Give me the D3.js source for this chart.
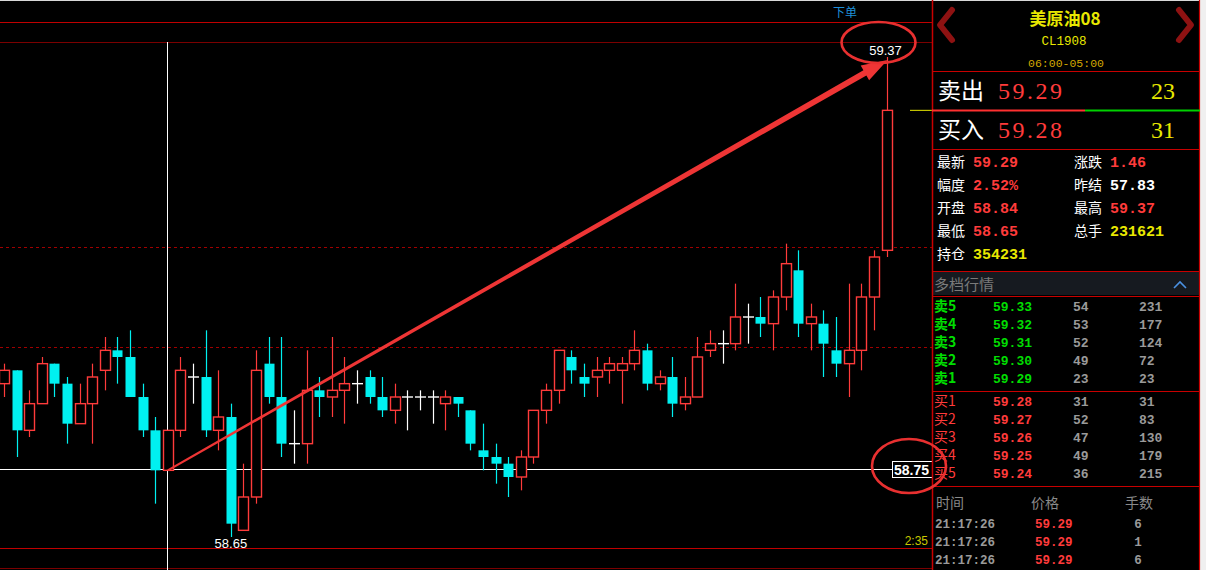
<!DOCTYPE html>
<html><head><meta charset="utf-8">
<script src="https://cdn.jsdelivr.net/npm/d3@7"></script>
<style>html,body{margin:0;padding:0;background:#000;overflow:hidden}</style>
</head><body>
<svg id="c" width="1206" height="570"></svg>
<script>
// ---- chart data (candles, index 0..70) ----
const opens  = [58.88,58.90,58.81,58.85,58.91,58.88,58.82,58.85,58.90,58.93,58.92,58.86,58.81,58.75,58.81,58.89,58.89,58.81,58.83,58.66,58.71,58.91,58.86,58.79,58.79,58.87,58.86,58.87,58.88,58.89,58.86,58.84,58.86,58.86,58.86,58.85,58.86,58.84,58.78,58.77,58.76,58.74,58.77,58.84,58.87,58.92,58.89,58.89,58.90,58.90,58.91,58.93,58.88,58.89,58.85,58.86,58.93,58.94,58.94,58.98,58.98,58.97,59.01,59.05,58.97,58.97,58.93,58.91,58.93,59.01,59.08];
const highs  = [58.91,58.90,58.87,58.92,58.91,58.89,58.88,58.91,58.95,58.95,58.96,58.88,58.83,58.81,58.92,58.91,58.96,58.90,58.85,58.76,58.93,58.95,58.95,58.84,58.93,58.89,58.95,58.92,58.90,58.90,58.89,58.88,58.87,58.87,58.87,58.87,58.86,58.84,58.82,58.79,58.77,58.78,58.84,58.88,58.93,58.93,58.91,58.92,58.92,58.92,58.96,58.94,58.90,58.92,58.89,58.95,58.96,58.96,59.03,59.00,59.01,59.02,59.09,59.08,59.00,58.99,58.98,59.03,59.03,59.08,59.37];
const lows   = [58.86,58.77,58.80,58.85,58.86,58.79,58.82,58.79,58.87,58.88,58.86,58.80,58.70,58.75,58.80,58.85,58.80,58.78,58.65,58.66,58.70,58.85,58.77,58.76,58.76,58.83,58.83,58.82,58.85,58.85,58.83,58.82,58.81,58.84,58.82,58.81,58.83,58.78,58.75,58.73,58.71,58.72,58.76,58.82,58.85,58.88,58.86,58.86,58.88,58.85,58.90,58.87,58.87,58.83,58.84,58.86,58.92,58.91,58.93,58.94,58.95,58.93,58.99,58.95,58.93,58.89,58.89,58.86,58.90,58.96,59.07];
const closes = [58.90,58.81,58.85,58.91,58.88,58.82,58.85,58.89,58.93,58.92,58.86,58.81,58.75,58.81,58.90,58.89,58.81,58.83,58.67,58.71,58.90,58.86,58.79,58.79,58.87,58.86,58.87,58.88,58.88,58.86,58.84,58.86,58.86,58.86,58.86,58.86,58.85,58.79,58.77,58.76,58.74,58.77,58.84,58.87,58.93,58.90,58.88,58.90,58.91,58.91,58.93,58.88,58.89,58.85,58.86,58.92,58.94,58.94,58.98,58.98,58.97,59.01,59.06,58.97,58.98,58.94,58.91,58.93,59.01,59.07,59.29];
const gridPrices = [58.935, 59.085];
const crossIndex = 13, crossPrice = 58.75;
const lowIndex = 18, lowPrice = 58.65;
const highIndex = 70, highPrice = 59.37;
const lastPrice = 59.29;
const timeLabel = "2:35";

// ---- panel data ----
const title = "美原油08", code = "CL1908", session = "06:00-05:00";
const sellLabel = ["卖出", "59.29", "23"], buyLabel = ["买入", "59.28", "31"];
const infoLeft  = [["最新","59.29","#ff3b3b"],["幅度","2.52%","#ff3b3b"],["开盘","58.84","#ff3b3b"],["最低","58.65","#ff3b3b"],["持仓","354231","#e8e800"]];
const infoRight = [["涨跌","1.46","#ff3b3b"],["昨结","57.83","#ffffff"],["最高","59.37","#ff3b3b"],["总手","231621","#e8e800"]];
const askNames = ["卖5","卖4","卖3","卖2","卖1"];
const askPrices = ["59.33","59.32","59.31","59.30","59.29"];
const askVols = ["54","53","52","49","23"];
const askCum = ["231","177","124","72","23"];
const bidNames = ["买1","买2","买3","买4","买5"];
const bidPrices = ["59.28","59.27","59.26","59.25","59.24"];
const bidVols = ["31","52","47","49","36"];
const bidCum = ["31","83","130","179","215"];
const tradeHead = ["时间","价格","手数"];
const tradeTimes = ["21:17:26","21:17:26","21:17:26"];
const tradePrices = ["59.29","59.29","59.29"];
const tradeQty = ["6","1","6"];

const svg = d3.select("#c");
svg.append("rect").attr("width",1206).attr("height",570).attr("fill","#000");

const x = d3.scaleLinear().domain([0, 70]).range([3.9, 886.5]);
const y = d3.scaleLinear().domain([58.65, 59.37]).range([537, 57]);

const UP = "#ff3b3b", DOWN = "#00f0f0", DOJI = "#ffffff";
const CJK = "'Noto Sans CJK SC', sans-serif";
const MONO = "'Liberation Mono', monospace";
const SERIF = "'Liberation Serif', serif";
const SANS = "'Liberation Sans', Arial, sans-serif";

// chart frame lines
svg.append("line").attr("x1",0).attr("x2",1206).attr("y1",0.5).attr("y2",0.5).attr("stroke","#d8d8d8");
[[22,"#c00000"],[42,"#7a0000"],[548,"#c00000"],[568,"#7a0000"]].forEach(([yy,c]) => {
  svg.append("line").attr("x1",0).attr("x2",932).attr("y1",yy+0.5).attr("y2",yy+0.5).attr("stroke",c).attr("stroke-width",1.2);
});
// dashed grid
svg.selectAll(".grid").data(gridPrices).enter().append("line")
  .attr("x1",0).attr("x2",932).attr("y1",d=>Math.round(y(d))+0.5).attr("y2",d=>Math.round(y(d))+0.5)
  .attr("stroke","#a00000").attr("stroke-width",1.2).attr("stroke-dasharray","3,3");

svg.append("text").attr("x",845).attr("y",17).attr("text-anchor","middle").attr("fill","#1e8fd8")
  .attr("font-family",CJK).attr("font-size",12).text("下单");

// crosshair
const cx = Math.round(x(crossIndex)) - 0.5;
svg.append("line").attr("x1",cx).attr("x2",cx).attr("y1",42).attr("y2",570).attr("stroke","#fff");
svg.append("line").attr("x1",0).attr("x2",892).attr("y1",Math.round(y(crossPrice))-0.5).attr("y2",Math.round(y(crossPrice))-0.5).attr("stroke","#fff").attr("stroke-width",1.2);

// candles
const data = opens.map((o,i)=>({i,o,h:highs[i],l:lows[i],c:closes[i]}));
const col = d => d.c > d.o ? UP : (d.c < d.o ? DOWN : DOJI);
const g = svg.append("g");
g.selectAll(".wick").data(data).enter().append("line")
  .attr("x1",d=>Math.round(x(d.i))+0.5).attr("x2",d=>Math.round(x(d.i))+0.5)
  .attr("y1",d=>y(d.h)).attr("y2",d=>y(d.l)).attr("stroke",col).attr("stroke-width",1.2);
const bw = 10;
g.selectAll(".body").data(data.filter(d=>d.c!==d.o)).enter().append("rect")
  .attr("x",d=>Math.round(x(d.i))-4.5).attr("width",bw)
  .attr("y",d=>y(Math.max(d.o,d.c))).attr("height",d=>Math.abs(y(d.o)-y(d.c)))
  .attr("fill",d=>d.c>d.o?"#000":DOWN).attr("stroke",col).attr("stroke-width",d=>d.c>d.o?1.4:0);
g.selectAll(".doji").data(data.filter(d=>d.c===d.o)).enter().append("line")
  .attr("x1",d=>Math.round(x(d.i))-5).attr("x2",d=>Math.round(x(d.i))+6)
  .attr("y1",d=>y(d.o)).attr("y2",d=>y(d.o)).attr("stroke",DOJI).attr("stroke-width",1.4);

// last price marker
svg.append("line").attr("x1",910).attr("x2",932).attr("y1",y(lastPrice)).attr("y2",y(lastPrice)).attr("stroke","#e8e800");

// labels
svg.append("text").attr("x",x(lowIndex)).attr("y",548).attr("text-anchor","middle").attr("fill","#fff")
  .attr("font-family",SANS).attr("font-size",13).text(lowPrice.toFixed(2));
svg.append("text").attr("x",x(highIndex)-1).attr("y",55).attr("text-anchor","middle").attr("fill","#fff")
  .attr("font-family",SANS).attr("font-size",13).text(highPrice.toFixed(2));
svg.append("text").attr("x",928).attr("y",545).attr("text-anchor","end").attr("fill","#c8c800")
  .attr("font-family",SANS).attr("font-size",12).text(timeLabel);

// arrow
(function(){
  const S=[x(crossIndex), y(crossPrice)], T=[x(highIndex)+1, y(highPrice)+3];
  const dx=T[0]-S[0], dy=T[1]-S[1], L=Math.hypot(dx,dy), u=[dx/L,dy/L], n=[-u[1],u[0]];
  const B=[T[0]-u[0]*26, T[1]-u[1]*26];
  const p=(P,k)=>[P[0]+n[0]*k, P[1]+n[1]*k];
  const pts=[p(S,1.1),p(B,3),p(B,8.5),T,p(B,-8.5),p(B,-3),p(S,-1.1)];
  svg.append("polygon").attr("points",pts.map(q=>q.join(",")).join(" ")).attr("fill","#ee3535");
})();

// price box
svg.append("rect").attr("x",892.5).attr("y",461.5).attr("width",42).attr("height",16).attr("fill","#000").attr("stroke","#fff");
svg.append("text").attr("x",894).attr("y",475).attr("fill","#fff").attr("font-family",SANS).attr("font-weight","bold")
  .attr("font-size",14).text(crossPrice.toFixed(2));

// ---------------- right panel ----------------
const P = svg.append("g");
P.append("rect").attr("x",932).attr("y",1).attr("width",268).attr("height",569).attr("fill","#000");
P.append("rect").attr("x",1200).attr("y",0).attr("width",6).attr("height",570).attr("fill","#f0f0f0");
P.append("rect").attr("x",933).attr("y",272).attr("width",266).attr("height",23).attr("fill","#161a20");
const RED="#c80000";
P.append("line").attr("x1",932.5).attr("x2",932.5).attr("y1",0).attr("y2",570).attr("stroke",RED).attr("stroke-width",1.5);
P.append("line").attr("x1",1199.5).attr("x2",1199.5).attr("y1",0).attr("y2",570).attr("stroke",RED).attr("stroke-width",1.2);
[71,149,271,296,391,486].forEach(yy=>P.append("line").attr("x1",932).attr("x2",1200).attr("y1",yy+0.5).attr("y2",yy+0.5).attr("stroke",RED).attr("stroke-width",1.2));
P.append("line").attr("x1",932).attr("x2",1085).attr("y1",110.5).attr("y2",110.5).attr("stroke","#ff3030").attr("stroke-width",2);
P.append("line").attr("x1",1085).attr("x2",1200).attr("y1",110.5).attr("y2",110.5).attr("stroke","#00d000").attr("stroke-width",2);

// chevrons
P.append("polyline").attr("points","952,10 940,25 952,40").attr("fill","none").attr("stroke","#8e1212").attr("stroke-width",6).attr("stroke-linecap","round").attr("stroke-linejoin","round");
P.append("polyline").attr("points","1179,10 1191,25 1179,40").attr("fill","none").attr("stroke","#8e1212").attr("stroke-width",6).attr("stroke-linecap","round").attr("stroke-linejoin","round");
P.append("polyline").attr("points","1174,288 1180,282 1186,288").attr("fill","none").attr("stroke","#4a90e2").attr("stroke-width",1.6);

const T = (sel,xx,yy,txt,opt) => {
  const t = sel.append("text").attr("x",xx).attr("y",yy).text(txt)
  .attr("fill",opt.c).attr("font-family",opt.f).attr("font-size",opt.s).attr("font-weight",opt.w||"normal")
  .attr("text-anchor",opt.a||"start");
  if (opt.len) t.attr("textLength",opt.len).attr("lengthAdjust","spacing");
  return t;
};

T(P,1065,25,title,{c:"#e8e800",f:CJK,s:17,w:"bold",a:"middle"});
T(P,1064,45,code,{c:"#e8e800",f:MONO,s:12.5,a:"middle"});
T(P,1066,67,session,{c:"#d4a800",f:MONO,s:11.5,a:"middle"});

T(P,938,99,sellLabel[0],{c:"#fff",f:CJK,s:23});
T(P,998,99,sellLabel[1],{c:"#ff3b3b",f:SERIF,s:24,len:64});
T(P,1163,99,sellLabel[2],{c:"#e8e800",f:SERIF,s:24,a:"middle"});
T(P,938,138,buyLabel[0],{c:"#fff",f:CJK,s:23});
T(P,998,138,buyLabel[1],{c:"#ff3b3b",f:SERIF,s:24,len:64});
T(P,1163,138,buyLabel[2],{c:"#e8e800",f:SERIF,s:24,a:"middle"});

infoLeft.forEach((r,i)=>{ const yy=167+i*23;
  T(P,937,yy,r[0],{c:"#fff",f:CJK,s:14}); T(P,973,yy,r[1],{c:r[2],f:MONO,s:15,w:"bold"}); });
infoRight.forEach((r,i)=>{ const yy=167+i*23;
  T(P,1074,yy,r[0],{c:"#fff",f:CJK,s:14}); T(P,1110,yy,r[1],{c:r[2],f:MONO,s:15,w:"bold"}); });

T(P,934,290,"多档行情",{c:"#7a7a7a",f:CJK,s:15});

askNames.forEach((nm,i)=>{ const yy=311+i*18;
  T(P,934,yy,nm,{c:"#00dd00",f:CJK,s:14,w:"bold"});
  T(P,993,yy,askPrices[i],{c:"#00dd00",f:MONO,s:13,w:"bold"});
  T(P,1073,yy,askVols[i],{c:"#9a9a9a",f:MONO,s:13,w:"bold"});
  T(P,1139,yy,askCum[i],{c:"#9a9a9a",f:MONO,s:13,w:"bold"}); });
bidNames.forEach((nm,i)=>{ const yy=406+i*18;
  T(P,934,yy,nm,{c:"#ff3b3b",f:CJK,s:14});
  T(P,993,yy,bidPrices[i],{c:"#ff3b3b",f:MONO,s:13,w:"bold"});
  T(P,1073,yy,bidVols[i],{c:"#9a9a9a",f:MONO,s:13,w:"bold"});
  T(P,1139,yy,bidCum[i],{c:"#9a9a9a",f:MONO,s:13,w:"bold"}); });

[[936,tradeHead[0]],[1031,tradeHead[1]],[1125,tradeHead[2]]].forEach(([xx,t])=>T(P,xx,508,t,{c:"#8a8a8a",f:CJK,s:14}));
tradeTimes.forEach((t,i)=>{ const yy=528+i*18;
  T(P,935,yy,t,{c:"#9a9a9a",f:MONO,s:12.5,w:"bold"});
  T(P,1035,yy,tradePrices[i],{c:"#ff3b3b",f:MONO,s:12.5,w:"bold"});
  T(P,1138,yy,tradeQty[i],{c:"#9a9a9a",f:MONO,s:12.5,w:"bold",a:"middle"}); });

// highlight ellipses
svg.append("ellipse").attr("cx",878.5).attr("cy",42.5).attr("rx",37).attr("ry",20.5).attr("fill","none").attr("stroke","#e83030").attr("stroke-width",2.6);
svg.append("ellipse").attr("cx",909).attr("cy",466).attr("rx",37).attr("ry",27).attr("fill","none").attr("stroke","#e83030").attr("stroke-width",2.6);
</script>
</body></html>
